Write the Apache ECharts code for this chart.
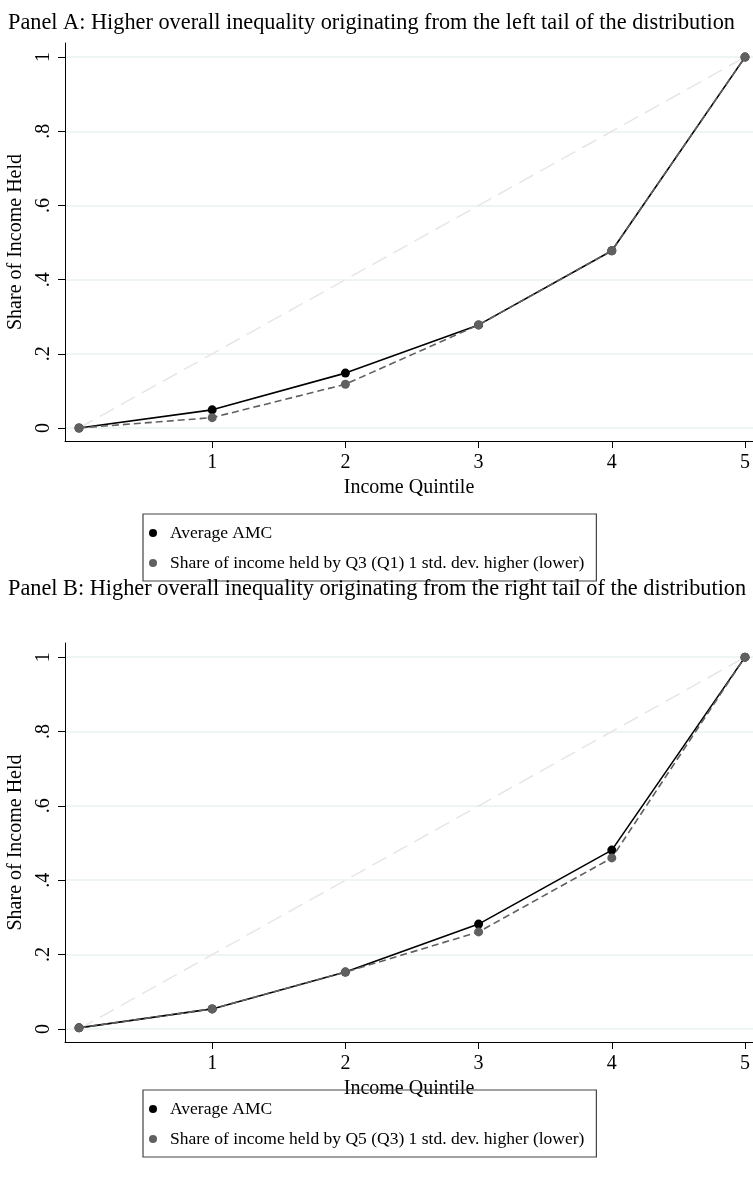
<!DOCTYPE html>
<html>
<head>
<meta charset="utf-8">
<script src="https://cdn.jsdelivr.net/npm/echarts@6/dist/echarts.min.js"></script>
<style>
html,body{margin:0;padding:0;background:#fff;}
#chart{width:753px;height:1178px;}
</style>
</head>
<body>
<div id="chart"></div>
<script>
// ---- data ----
const quintiles = [0, 1, 2, 3, 4, 5];
const xTickValues = [1, 2, 3, 4, 5];
const yTickValues = [0, 0.2, 0.4, 0.6, 0.8, 1];
const yTickLabels = ['0', '.2', '.4', '.6', '.8', '1'];
const equalityLine = [0, 0.2, 0.4, 0.6, 0.8, 1];

const titleA = 'Panel A: Higher overall inequality originating from the left tail of the distribution';
const titleB = 'Panel B: Higher overall inequality originating from the right tail of the distribution';
const nameAvg = 'Average AMC';
const nameAltA = 'Share of income held by Q3 (Q1) 1 std. dev. higher (lower)';
const nameAltB = 'Share of income held by Q5 (Q3) 1 std. dev. higher (lower)';

const avgA = [0, 0.049, 0.148, 0.278, 0.478, 1.0];
const altA = [0, 0.028, 0.118, 0.278, 0.478, 1.0];
const avgB = [0.003, 0.054, 0.153, 0.282, 0.481, 1.0];
const altB = [0.003, 0.054, 0.153, 0.261, 0.460, 1.0];

// ---- chart ----
const FONT = 'Liberation Serif';
const pairs = (xs, ys) => xs.map((x, i) => [x, ys[i]]);

function xAxisDef(gi) {
  return {
    gridIndex: gi, type: 'value', min: -0.105, max: 5.06,
    name: 'Income Quintile', nameLocation: 'middle', nameGap: 37,
    nameTextStyle: {fontFamily: FONT, fontSize: 20, color: '#000'},
    axisLine: {show: true, onZero: false, lineStyle: {color: '#000', width: 1}},
    axisTick: {show: true, inside: false, length: 7, customValues: xTickValues, lineStyle: {color: '#000'}},
    axisLabel: {show: true, customValues: xTickValues, margin: 12, fontFamily: FONT, fontSize: 20, color: '#000'},
    splitLine: {show: false}
  };
}
function yAxisDef(gi) {
  return {
    gridIndex: gi, type: 'value', min: -0.035, max: 1.038,
    name: 'Share of Income Held', nameLocation: 'middle', nameGap: 38,
    nameTextStyle: {fontFamily: FONT, fontSize: 20, color: '#000'},
    axisLine: {show: true, onZero: false, lineStyle: {color: '#000', width: 1}},
    axisTick: {show: true, inside: false, length: 7, customValues: yTickValues, lineStyle: {color: '#000'}},
    axisLabel: {show: true, customValues: yTickValues, rotate: 90, margin: 11, fontFamily: FONT, fontSize: 20, color: '#000',
      formatter: v => { const i = yTickValues.findIndex(t => Math.abs(t - v) < 1e-6); return i >= 0 ? yTickLabels[i] : ''; }},
    splitLine: {show: true, lineStyle: {color: '#eaf1f2', width: 1.5}}
  };
}
function seriesSet(gi, avg, alt, altName) {
  return [
    {type: 'line', name: 'equality', xAxisIndex: gi, yAxisIndex: gi, data: pairs(quintiles, equalityLine),
      symbol: 'none', silent: true, lineStyle: {color: '#e6e6e6', width: 1.5, type: [16, 8]}, z: 2},
    {type: 'line', name: nameAvg, xAxisIndex: gi, yAxisIndex: gi, data: pairs(quintiles, avg),
      symbol: 'circle', symbolSize: 9, itemStyle: {color: '#000'}, lineStyle: {color: '#000', width: 1.6}, z: 3},
    {type: 'line', name: altName, xAxisIndex: gi, yAxisIndex: gi, data: pairs(quintiles, alt),
      symbol: 'circle', symbolSize: 9, itemStyle: {color: '#606060'}, lineStyle: {color: '#606060', width: 1.6, type: [7, 4]}, z: 4}
  ];
}
function legendDef(top, altName) {
  return {
    data: [{name: nameAvg, icon: 'circle'}, {name: altName, icon: 'circle'}],
    orient: 'vertical', left: 143, top: top, selectedMode: false,
    borderColor: '#444', borderWidth: 1.2, padding: [10, 12, 9, 6], itemGap: 12,
    itemWidth: 8, itemHeight: 8,
    textStyle: {fontFamily: FONT, fontSize: 17.5, color: '#000', padding: [0, 0, 0, 8]}
  };
}

const chart = echarts.init(document.getElementById('chart'), null, {renderer: 'canvas'});
chart.setOption({
  backgroundColor: '#fff',
  animation: false,
  title: [
    {text: titleA, left: 3, top: 7, textStyle: {fontFamily: FONT, fontSize: 22.3, fontWeight: 'normal', color: '#000'}},
    {text: titleB, left: 3, top: 573, textStyle: {fontFamily: FONT, fontSize: 22.3, fontWeight: 'normal', color: '#000'}}
  ],
  legend: [legendDef(514, nameAltA), legendDef(1090, nameAltB)],
  grid: [
    {left: 65, top: 43, width: 688, height: 398, containLabel: false, outerBoundsMode: 'none'},
    {left: 65, top: 643, width: 688, height: 399, containLabel: false, outerBoundsMode: 'none'}
  ],
  xAxis: [xAxisDef(0), xAxisDef(1)],
  yAxis: [yAxisDef(0), yAxisDef(1)],
  series: [].concat(seriesSet(0, avgA, altA, nameAltA), seriesSet(1, avgB, altB, nameAltB))
});
</script>
</body>
</html>
